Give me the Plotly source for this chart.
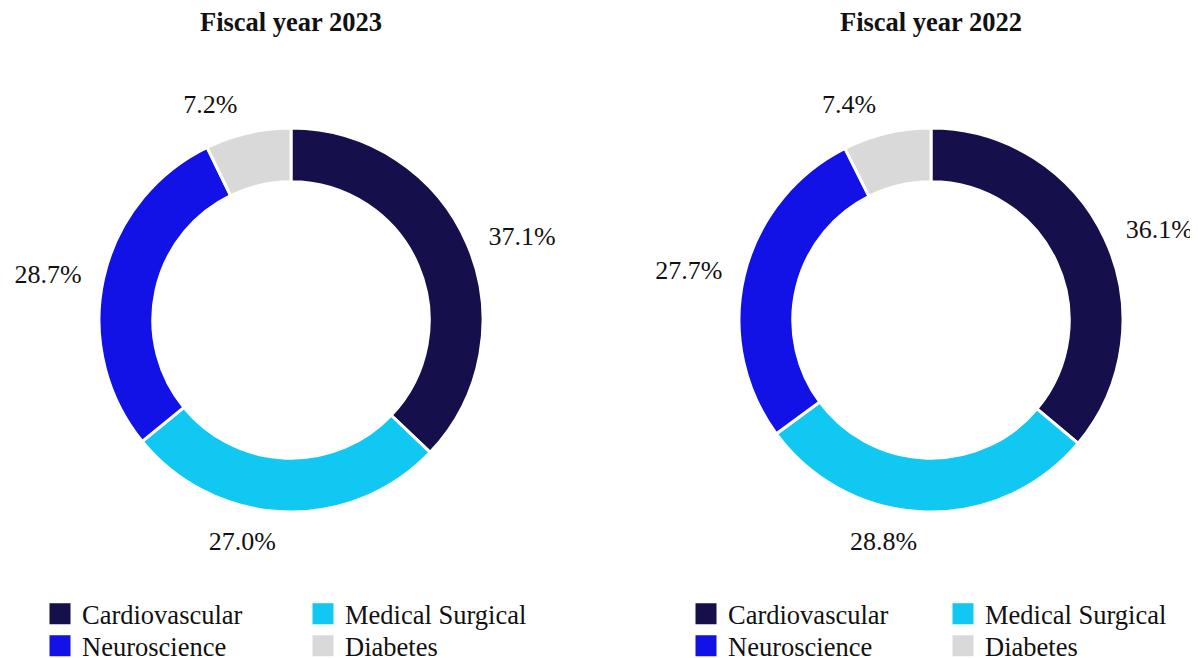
import plotly.graph_objects as go

categories = ["Cardiovascular", "Medical Surgical", "Neuroscience", "Diabetes"]
share_2023 = [37.1, 27.0, 28.7, 7.2]
share_2022 = [36.1, 28.8, 27.7, 7.4]
colors = ["#150F4B", "#10C8F2", "#1212E6", "#D9D9D9"]
titles = ["Fiscal year 2023", "Fiscal year 2022"]

# the page body adds an 8px offset, so the figure is 8px smaller than the window
W, H = 1190, 650
font = "Liberation Serif, Times New Roman, serif"
ink = "#111111"

# pie placement in figure px: centre x, centre y, ring radius, label radius
centres = [283, 923]
cy, radius, label_radius = 312, 192, 207


def domain(cx, r):
    return dict(
        x=[(cx - r) / W, (cx + r) / W],
        y=[1 - (cy + r) / H, 1 - (cy - r) / H],
    )


fig = go.Figure()

for vals, cx in zip([share_2023, share_2022], centres):
    # transparent, slightly larger pie that only carries the outside labels
    fig.add_trace(
        go.Pie(
            labels=categories,
            values=vals,
            sort=False,
            direction="clockwise",
            rotation=0,
            hole=0.98,
            marker=dict(colors=["rgba(0,0,0,0)"] * 4, line=dict(width=0)),
            textposition="outside",
            texttemplate="%{value:.1f}%",
            textfont=dict(family=font, size=26, color=ink),
            showlegend=False,
            hoverinfo="skip",
            domain=domain(cx, label_radius),
        )
    )
    fig.add_trace(
        go.Pie(
            labels=categories,
            values=vals,
            sort=False,
            direction="clockwise",
            rotation=0,
            hole=0.72,
            marker=dict(colors=colors, line=dict(color="white", width=3)),
            textinfo="none",
            showlegend=False,
            hoverinfo="label+value",
            domain=domain(cx, radius),
        )
    )

# legend entries: two rows per chart, one legend per row
rows = [[0, 1], [2, 3]]
legend_ids = [["legend", "legend2"], ["legend3", "legend4"]]
for chart, ids in enumerate(legend_ids):
    for row, lid in zip(rows, ids):
        for i in row:
            fig.add_trace(
                go.Scatter(
                    x=[None],
                    y=[None],
                    mode="markers",
                    name=categories[i],
                    marker=dict(
                        symbol="square",
                        size=16,
                        color=colors[i],
                        line=dict(color=colors[i], width=5),
                    ),
                    legend=lid,
                    showlegend=True,
                )
            )

leg_x = [30, 676]
leg_w = [214, 208]
leg_y = [582, 614]
layout_legends = {}
for chart, ids in enumerate(legend_ids):
    for r, lid in enumerate(ids):
        layout_legends[lid] = dict(
            orientation="h",
            x=leg_x[chart] / W,
            y=1 - leg_y[r] / H,
            xanchor="left",
            yanchor="top",
            entrywidth=leg_w[chart],
            itemwidth=34,
            font=dict(family=font, size=26.5, color=ink),
            bgcolor="rgba(0,0,0,0)",
        )

annotations = [
    dict(
        text="<b>%s</b>" % t,
        x=cx / W,
        y=1 - 14 / H,
        xref="paper",
        yref="paper",
        xanchor="center",
        yanchor="middle",
        showarrow=False,
        font=dict(family=font, size=26.5, color=ink),
    )
    for t, cx in zip(titles, centres)
]

fig.update_layout(
    width=W,
    height=H,
    margin=dict(l=0, r=0, t=0, b=0, autoexpand=False),
    paper_bgcolor="white",
    plot_bgcolor="white",
    xaxis=dict(visible=False),
    yaxis=dict(visible=False),
    annotations=annotations,
    **layout_legends,
)

fig.write_html("out.html")
